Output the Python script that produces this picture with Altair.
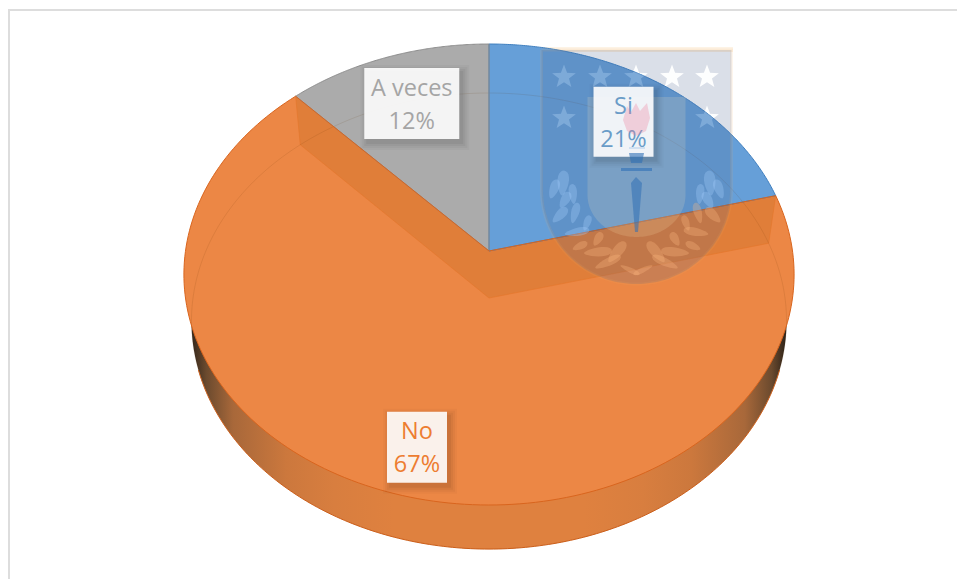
import math
import altair as alt

# Survey answers, in drawing order (clockwise from twelve o'clock)
categories = ["Si", "No", "A veces"]
percentages = [21, 67, 12]
face_colors = ["#669FD8", "#EC8745", "#ABABAB"]
edge_colors = ["#3F7FBF", "#D9651E", "#8C8C8C"]
text_colors = ["#6A9CC8", "#ED7D31", "#A5A5A5"]
label_radii = [0.78, 0.82, 0.75]
label_nudges = [(-2, 3), (3.5, 1), (1, 1)]
label_boxes = [(60, 70), (60, 71), (95, 71)]

# Perspective discs: centre x, centre y, horizontal radius, vertical radius, tilt
TOP_DISC = (489, 251, 303.5, 228.1, -0.102)
BASE_DISC = (489, 298, 296.0, 225.7, -0.101)


def disc_point(disc, angle, r=1.0):
    cx, cy, rx, ry, k = disc
    u, v = r * math.sin(angle), r * math.cos(angle)
    w = 1 - k * v
    return (cx + rx * u / w, cy - ry * v / w)


def arc_points(disc, a0, a1, steps=180):
    return [disc_point(disc, a0 + (a1 - a0) * i / steps) for i in range(steps + 1)]


def clip_to_convex(subject, region):
    """Sutherland-Hodgman clip of a polygon against a clockwise convex region."""
    output = list(subject)
    for i in range(len(region)):
        ax, ay = region[i]
        bx, by = region[(i + 1) % len(region)]
        side = lambda p: (bx - ax) * (p[1] - ay) - (by - ay) * (p[0] - ax)
        source, output = output, []
        for j, cur in enumerate(source):
            prev = source[j - 1]
            sc, sp = side(cur), side(prev)
            if (sc >= 0) != (sp >= 0):
                t = sp / (sp - sc)
                output.append((prev[0] + (cur[0] - prev[0]) * t, prev[1] + (cur[1] - prev[1]) * t))
            if sc >= 0:
                output.append(cur)
        if not output:
            break
    return output


def feature(points, closed=True):
    pts = [list(p) for p in points]
    if closed:
        pts = pts + [pts[0]]
        geom = {"type": "Polygon", "coordinates": [pts]}
    else:
        geom = {"type": "LineString", "coordinates": pts}
    return {"type": "Feature", "properties": {}, "geometry": geom}


PROJ = dict(type="identity", scale=1, translate=[0, 0])


def shape(points, closed=True, **mark):
    if not closed:
        mark.setdefault("filled", False)
    else:
        mark.setdefault("strokeWidth", 0)
    return alt.Chart(alt.Data(values=[feature(points, closed)])).mark_geoshape(**mark).project(**PROJ)


def box(x0, y0, x1, y1, **mark):
    return shape([(x0, y0), (x1, y0), (x1, y1), (x0, y1)], **mark)


TAU = 2 * math.pi
bounds = [0]
for p in percentages:
    bounds.append(bounds[-1] + p / 100 * TAU)

CREST_X = 636.5
CREST_TINT = "#46608A"
CREST_TINT_OPACITY = 0.2


def shield(half, top, straight_to, bottom, steps=40):
    pts = [(CREST_X - half, top), (CREST_X + half, top), (CREST_X + half, straight_to)]
    for i in range(1, 2 * steps):
        t = i / steps * math.pi / 2
        pts.append((CREST_X + half * math.cos(t), straight_to + (bottom - straight_to) * math.sin(t)))
    pts.append((CREST_X - half, straight_to))
    return pts


def star(cx, cy, r=12.5):
    return [
        (cx + (r if j % 2 == 0 else r * 0.42) * math.sin(j * math.pi / 5),
         cy - (r if j % 2 == 0 else r * 0.42) * math.cos(j * math.pi / 5))
        for j in range(10)
    ]


outer_shield = shield(95, 50, 190, 284)
star_centres = [(x, 77) for x in (564, 600, 636, 672, 707)] + [(x, 118) for x in (564, 707)]
top_outline = arc_points(TOP_DISC, 0, TAU, 240)[:-1]

layers = []

# Thin frame around the chart area
layers.append(box(8, 9, 957, 11, fill="#DDDDDD"))
layers.append(box(8, 9, 10, 579, fill="#DDDDDD"))

# Crest background on the bare page: cream edge, tint, white stars
layers.append(box(541, 47, 733, 52, fill="#F7C98A", opacity=0.22))
layers.append(shape(outer_shield, fill=CREST_TINT, opacity=CREST_TINT_OPACITY))
for c in star_centres:
    layers.append(shape(star(*c), fill="#FFFFFF", opacity=0.95))

# Outer wall of the pie, shaded left to right
wall_fill = alt.LinearGradient(
    gradient="linear",
    x1=0, x2=1, y1=0, y2=0,
    stops=[
        alt.GradientStop(offset=0.0, color="#33271C"),
        alt.GradientStop(offset=0.025, color="#6B4A2E"),
        alt.GradientStop(offset=0.07, color="#A8683A"),
        alt.GradientStop(offset=0.16, color="#CC783D"),
        alt.GradientStop(offset=0.24, color="#D87E3F"),
        alt.GradientStop(offset=0.34, color="#DF813F"),
        alt.GradientStop(offset=0.66, color="#DF813F"),
        alt.GradientStop(offset=0.76, color="#D87E3F"),
        alt.GradientStop(offset=0.84, color="#CC783D"),
        alt.GradientStop(offset=0.93, color="#A8683A"),
        alt.GradientStop(offset=0.975, color="#6B4A2E"),
        alt.GradientStop(offset=1.0, color="#2C2218"),
    ],
)
layers.append(shape(arc_points(BASE_DISC, 0, TAU, 360), fill=wall_fill))
layers.append(shape(arc_points(BASE_DISC, TAU * 0.30, TAU * 0.70), closed=False,
                    stroke="#D9651E", strokeWidth=1))

# Top face of each slice
center = disc_point(TOP_DISC, 0, 0)
for i in range(3):
    layers.append(shape([center] + arc_points(TOP_DISC, bounds[i], bounds[i + 1]),
                        fill=face_colors[i]))

# Cut faces of the large slice, seen through the top
base_center = disc_point(BASE_DISC, 0, 0)
for a in (bounds[1], bounds[2]):
    layers.append(shape([center, disc_point(TOP_DISC, a), disc_point(BASE_DISC, a), base_center],
                        fill="#E07E39"))
    layers.append(shape([disc_point(TOP_DISC, a), disc_point(BASE_DISC, a), base_center], closed=False,
                        stroke="#E5762C", strokeWidth=1, strokeOpacity=0.6))

# Faint rim of the base disc showing through
layers.append(shape(arc_points(BASE_DISC, 0, TAU, 360), closed=False,
                    stroke="#5A2A00", strokeWidth=1, strokeOpacity=0.11))

# Slice outlines
for i in (0, 2, 1):
    layers.append(shape([center] + arc_points(TOP_DISC, bounds[i], bounds[i + 1]) + [center],
                        closed=False, stroke=edge_colors[i], strokeWidth=1))

# Crest over the pie: tint and stars kept inside the top face
layers.append(shape(clip_to_convex(outer_shield, top_outline), fill=CREST_TINT, opacity=CREST_TINT_OPACITY))
for c in star_centres:
    clipped = clip_to_convex(star(*c), top_outline)
    if len(clipped) > 2:
        layers.append(shape(clipped, fill="#C4E0FF", opacity=0.3))
layers.append(shape(outer_shield + [outer_shield[0]], closed=False,
                    stroke="#F0B060", strokeWidth=3, strokeOpacity=0.12))
layers.append(shape(shield(49, 97, 195, 237), fill="#FFE7B8", opacity=0.17))

# Data labels: soft shadow, pale box, two lines of text
for i, cat in enumerate(categories):
    mid = (bounds[i] + bounds[i + 1]) / 2
    lx, ly = disc_point(TOP_DISC, mid, label_radii[i])
    lx += label_nudges[i][0]
    ly += label_nudges[i][1]
    w, h = label_boxes[i]
    x0, x1, y0, y1 = lx - w / 2, lx + w / 2, ly - h / 2, ly + h / 2
    for grow, op in ((7, 0.025), (5, 0.03), (3, 0.04), (1, 0.05)):
        layers.append(box(x0 + 3 - grow, y0 + 4 - grow, x1 + 3 + grow, y1 + 4 + grow,
                          fill="#000000", opacity=op))
    layers.append(box(x0, y0, x1, y1, fill="#FFFFFF", opacity=0.9))
    rows = [{"t": cat, "lon": lx, "lat": ly - 15}, {"t": f"{percentages[i]}%", "lon": lx, "lat": ly + 18}]
    layers.append(
        alt.Chart(alt.Data(values=rows))
        .mark_text(font="Open Sans", fontSize=23.5, color=text_colors[i], align="center", baseline="middle")
        .encode(longitude="lon:Q", latitude="lat:Q", text="t:N")
        .project(**PROJ)
    )

# Flame and torch, over the label box as well
flame = [(623, 120), (627, 106), (631, 112), (636, 103), (640, 111), (647, 103), (650, 118), (646, 131), (636, 136), (627, 131)]
layers.append(shape(flame, fill="#F07A98", opacity=0.3))
layers.append(box(629, 147, 645, 149, fill="#BBD3EC", opacity=0.6))
layers.append(shape([(629, 153), (644, 153), (642, 163), (631, 163)], fill="#2F6FB5", opacity=0.6))
layers.append(box(621, 168, 652, 171, fill="#2F6FB5", opacity=0.6))
layers.append(shape([(631, 183), (636, 177), (642, 183), (638, 232), (635, 232)], fill="#2F6FB5", opacity=0.55))

# Laurel leaves, one side mirrored onto the other
leaves = [
    (563, 183, 25, 11, 85), (554, 189, 20, 9, 70), (573, 194, 20, 8, 95), (565, 200, 18, 9, 60),
    (560, 215, 20, 9, 45), (575, 213, 21, 8, 75), (587, 223, 16, 7, 70), (577, 232, 25, 8, 10),
    (598, 239, 15, 8, 60), (580, 246, 16, 7, 25), (598, 252, 28, 9, 5), (617, 252, 26, 10, 50),
    (608, 262, 28, 8, 25), (630, 270, 21, 5, -25),
]
si_edge = disc_point(TOP_DISC, bounds[1])


def leaf(cx, cy, length, width, deg, flip):
    a = math.radians(deg)
    pts = []
    for j in range(24):
        t = j / 24 * TAU
        px, py = length / 2 * math.cos(t), width / 2 * math.sin(t) * (1 + 0.3 * math.cos(t))
        qx = cx + px * math.cos(a) - py * math.sin(a)
        qy = cy - px * math.sin(a) - py * math.cos(a)
        pts.append((2 * CREST_X - qx if flip else qx, qy))
    return pts


for lf in leaves:
    for flip in (False, True):
        pts = leaf(*lf, flip)
        mx = sum(p[0] for p in pts) / len(pts)
        my = sum(p[1] for p in pts) / len(pts)
        edge_y = center[1] + (si_edge[1] - center[1]) * (mx - center[0]) / (si_edge[0] - center[0])
        if my < edge_y:
            layers.append(shape(pts, fill="#A8D0FF", opacity=0.3))
        else:
            layers.append(shape(pts, fill="#FFB880", opacity=0.3))

chart = (
    alt.layer(*layers)
    .properties(width=957, height=579, padding=0, background="#FFFFFF",
                autosize=alt.AutoSizeParams(type="none"))
    .configure_view(strokeWidth=0)
)

chart.save("out.html", embed_options={"renderer": "svg", "actions": False})
